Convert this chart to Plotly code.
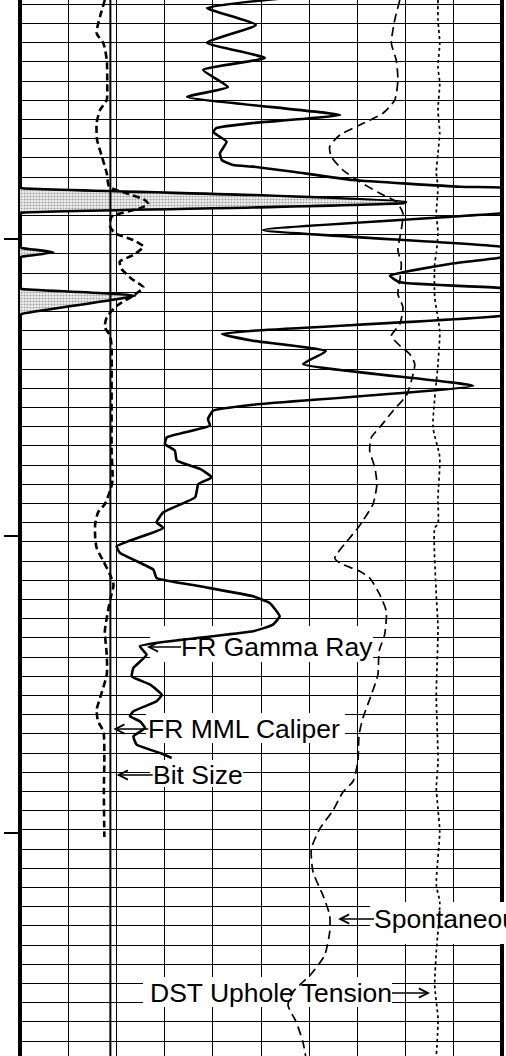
import plotly.graph_objects as go

# ---------------------------------------------------------------- log data
# Gamma ray (API) vs measured depth (ft)
GR_DEPTH = [3975.24, 3976.38, 3978.15, 3980.00, 3981.59, 3982.84, 3984.61, 3985.65,
            3987.53, 3988.36, 3988.88, 3989.30, 3990.31, 3991.52, 3992.22, 3992.74,
            3992.91, 3993.44, 3994.30, 3995.00, 3995.08, 3995.16, 3995.86, 3996.56,
            3996.70, 3997.16, 3997.70, 3997.77, 3999.51, 4001.25, 4001.38, 4001.83,
            4002.29, 4002.37, 4003.05, 4004.27, 4004.96, 4005.55, 4005.65, 4006.35,
            4008.26, 4008.44, 4010.00, 4010.34, 4011.04, 4012.14, 4013.47, 4015.73,
            4017.71, 4018.33, 4019.20, 4019.89, 4021.10, 4021.80, 4022.50, 4023.54,
            4024.40, 4025.27, 4025.97, 4027.35, 4028.92, 4029.96, 4030.55, 4032.46,
            4033.15, 4034.89, 4035.76, 4036.62, 4037.66, 4038.36, 4039.75, 4040.62,
            4041.31, 4042.87, 4043.75, 4045.13, 4046.00, 4046.87, 4047.91, 4048.60,
            4049.64, 4050.16, 4050.69, 4051.38, 4052.25, 4053.12, 4053.99, 4054.51]
GR_API = [85.9, 58.2, 73.4, 58.2, 76.2, 57.0, 64.7, 52.0,
          99.6, 72.5, 61.2, 60.1, 64.3, 62.2, 62.8, 66.3,
          72.5, 85.0, 103.6, 136.9, 149.9, 150.5, 222.5, 270.1,
          269.5, 222.5, 150.5, 149.9, 75.6, 149.9, 150.5, 160.4,
          150.5, 149.9, 133.7, 115.1, 118.2, 149.9, 150.5, 185.8,
          150.5, 149.9, 72.5, 62.8, 72.5, 95.2, 88.1, 141.0,
          72.5, 60.1, 58.5, 59.1, 45.7, 45.1, 48.2, 48.8,
          56.0, 59.7, 55.5, 54.5, 44.6, 42.5, 44.6, 30.1,
          31.1, 41.5, 42.5, 56.0, 72.5, 77.7, 80.8, 78.7,
          72.5, 37.3, 39.4, 35.3, 34.8, 40.5, 44.1, 42.5,
          35.3, 34.2, 37.3, 38.9, 35.3, 36.3, 43.6, 47.2]

# Caliper (in)
CAL_DEPTH = [3975.55, 3977.29, 3979.02, 3980.06, 3981.80, 3984.23, 3985.97, 3987.01,
             3988.39, 3990.13, 3991.87, 3993.60, 3995.00, 3995.69, 3996.38, 3996.80,
             3997.25, 3998.12, 3999.16, 3999.85, 4000.55, 4001.25, 4002.11, 4002.81,
             4003.57, 4004.61, 4005.48, 4006.35, 4007.39, 4008.60, 4009.64, 4010.52,
             4011.73, 4015.21, 4018.68, 4022.50, 4025.62, 4026.66, 4028.05, 4028.92,
             4030.13, 4031.59, 4032.63, 4034.02, 4035.42, 4036.46, 4038.02, 4039.93,
             4041.31, 4043.75, 4045.83, 4048.26, 4049.48, 4050.69, 4051.73, 4054.17,
             4057.98, 4062.74]
CAL_IN = [7.76, 7.66, 7.59, 7.73, 7.80, 7.81, 7.80, 7.66,
          7.59, 7.60, 7.70, 7.80, 7.85, 8.21, 8.59, 8.66,
          8.49, 7.90, 7.87, 7.97, 8.35, 8.56, 8.35, 8.07,
          8.11, 8.32, 8.56, 8.35, 8.01, 7.80, 7.76, 7.87,
          7.90, 7.90, 7.90, 7.90, 7.92, 7.87, 7.76, 7.62,
          7.56, 7.56, 7.59, 7.73, 7.87, 7.94, 7.87, 7.80,
          7.76, 7.80, 7.80, 7.66, 7.59, 7.62, 7.73, 7.75,
          7.74, 7.75]

BIT_SIZE_IN = 7.875

# Spontaneous potential (mV)
SP_DEPTH = [3975.55, 3977.63, 3980.06, 3981.80, 3983.88, 3985.97, 3987.35, 3988.57,
            3989.61, 3990.83, 3991.87, 3993.26, 3994.48, 3995.69, 3996.56, 3997.77,
            3999.51, 4001.59, 4002.98, 4004.79, 4006.18, 4007.56, 4009.30, 4010.52,
            4011.56, 4012.43, 4013.47, 4015.21, 4016.77, 4018.33, 4020.06, 4021.10,
            4022.50, 4024.23, 4025.97, 4028.05, 4029.79, 4030.55, 4031.59, 4033.68,
            4034.20, 4035.06, 4035.76, 4037.50, 4039.23, 4041.66, 4043.39, 4045.83,
            4047.91, 4050.34, 4052.08, 4054.85, 4056.93, 4058.05, 4059.96, 4061.87,
            4063.96, 4066.38, 4068.81, 4070.89, 4072.63, 4075.06, 4076.98, 4077.84,
            4078.88, 4080.24, 4082.01, 4084.09, 4085.55]
SP_MV = [-2.4, -4.5, -5.9, -3.9, -3.2, -4.5, -9.4, -19.0,
         -27.3, -31.5, -30.8, -26.0, -19.0, -10.7, -3.9, -1.1,
         -1.8, -3.2, -1.8, -2.4, -3.2, -1.1, -2.4, -5.9,
         -2.4, 1.7, 3.8, 2.4, 0.3, -5.2, -10.7, -14.2,
         -14.9, -12.8, -11.9, -13.5, -17.7, -19.8, -23.2, -29.4,
         -27.3, -19.0, -14.9, -10.7, -8.0, -8.7, -11.0, -11.5,
         -14.2, -17.7, -19.3, -19.8, -21.8, -26.0, -30.1, -35.6,
         -39.1, -38.4, -34.3, -31.5, -31.5, -33.6, -39.1, -42.6,
         -46.7, -48.8, -45.4, -42.6, -41.5]

# DST uphole tension (lbf)
TEN_DEPTH = [3975.55, 3977.63, 3980.03, 3982.53, 3984.20, 3987.01, 3989.40, 3991.49,
             3993.57, 3995.03, 3997.74, 3999.82, 4001.90, 4003.05, 4006.49, 4010.03,
             4013.47, 4020.03, 4023.15, 4027.32, 4030.13, 4030.55, 4037.53, 4040.97,
             4047.95, 4054.82, 4057.63, 4059.82, 4062.22, 4067.74, 4069.51, 4074.72,
             4078.15, 4081.69, 4085.55]
TEN_LBF = [8672, 8672, 8708, 8672, 8708, 8672, 8708, 8672,
           8637, 8672, 8637, 8672, 8637, 8604, 8604, 8708,
           8672, 8569, 8708, 8672, 8672, 8604, 8637, 8672,
           8637, 8672, 8637, 8672, 8708, 8637, 8708, 8637,
           8604, 8672, 8637]

# Depth marks along the left edge of the track
DEPTH_TICKS = [4000.45, 4031.35, 4062.30]

# Curve labels
LABEL_TEXT = ["FR Gamma Ray", "FR MML Caliper", "Bit Size",
              "Spontaneous Potential", "DST Uphole Tension"]

# ---------------------------------------------------------------- scales
TOP, BASE = 3975.55, 4085.55
GR_RANGE = [0, 150]
GR_BACKUP_RANGE = [150, 300]
CAL_RANGE = [6, 16]
SP_RANGE = [-160, 40]
TEN_RANGE = [0, 10000]

# label placement: arrow tip (fraction of track width), depth, text offset (px)
LABEL_TIP_X = [0.2635, 0.1936, 0.2006, 0.6598, 0.8506]
LABEL_AT_DEPTH = [4042.95, 4051.49, 4056.28, 4071.28, 4078.99]
LABEL_OFFSET = [34, 35, 36, 36, -38]
# white panels behind the labels: (x0, x1) track fraction, (top, base) depth
LABEL_PANEL_X = [(0.2697, 0.7324), (0.2614, 0.6743), (0.2697, 0.4627),
                 (0.7261, 1.0400), (0.2552, 0.7718)]
LABEL_PANEL_D = [(4040.76, 4044.51), (4049.82, 4052.95), (4054.72, 4057.53),
                 (4069.51, 4073.88), (4077.32, 4080.45)]

FONT = "Liberation Sans, Arial, Helvetica, sans-serif"


def track_to_gr(f):
    """Track fraction -> position on the gamma ray scale."""
    return GR_RANGE[0] + f * (GR_RANGE[1] - GR_RANGE[0])


fig = go.Figure()

# white panels under the curve labels (drawn first so the grid is hidden
# but every curve still passes over them)
px_, py_ = [], []
for (f0, f1), (d0, d1) in zip(LABEL_PANEL_X, LABEL_PANEL_D):
    a, b = track_to_gr(f0), track_to_gr(f1)
    px_ += [a, b, b, a, a, None]
    py_ += [d0, d0, d1, d1, d0, None]
fig.add_trace(go.Scatter(
    x=px_, y=py_, xaxis="x", yaxis="y", mode="lines", fill="toself",
    fillcolor="white", line=dict(width=0, color="white"), hoverinfo="skip"))

# gamma ray backup (wrapped) scale, stippled
fig.add_trace(go.Scatter(
    x=GR_API, y=GR_DEPTH, xaxis="x2", yaxis="y", mode="lines",
    line=dict(color="black", width=2.6, shape="spline", smoothing=0.4),
    fill="tozerox", fillcolor="#d8d8d8",
    fillpattern=dict(shape=".", fgcolor="#505050", bgcolor="#f2f2f2",
                     size=3, solidity=0.4),
    hoverinfo="skip"))

# gamma ray
fig.add_trace(go.Scatter(
    x=GR_API, y=GR_DEPTH, xaxis="x", yaxis="y", mode="lines",
    line=dict(color="black", width=2.6, shape="spline", smoothing=0.4),
    hoverinfo="skip"))

# bit size
fig.add_trace(go.Scatter(
    x=[BIT_SIZE_IN, BIT_SIZE_IN], y=[TOP, BASE], xaxis="x3", yaxis="y",
    mode="lines", line=dict(color="black", width=2), hoverinfo="skip"))

# caliper
fig.add_trace(go.Scatter(
    x=CAL_IN, y=CAL_DEPTH, xaxis="x3", yaxis="y", mode="lines",
    line=dict(color="black", width=2.6, dash="7px,4px", shape="spline", smoothing=0.6),
    hoverinfo="skip"))

# spontaneous potential
fig.add_trace(go.Scatter(
    x=SP_MV, y=SP_DEPTH, xaxis="x4", yaxis="y", mode="lines",
    line=dict(color="black", width=1.7, dash="9px,5px", shape="spline", smoothing=0.6),
    hoverinfo="skip"))

# uphole tension
fig.add_trace(go.Scatter(
    x=TEN_LBF, y=TEN_DEPTH, xaxis="x5", yaxis="y", mode="lines",
    line=dict(color="black", width=1.7, dash="3px,3px", shape="spline", smoothing=0.6),
    hoverinfo="skip"))

hidden = dict(showticklabels=False, ticks="", showgrid=False,
              zeroline=False, showline=False, fixedrange=True)

shapes = []
# track borders
for side in (0, 1):
    shapes.append(dict(type="line", xref="x domain", yref="paper",
                       x0=side, x1=side, y0=0, y1=1, layer="below",
                       line=dict(color="black", width=4)))
# the label running off the right edge also covers the outer half of the border
f0, f1 = LABEL_PANEL_X[3]
d0, d1 = LABEL_PANEL_D[3]
shapes.append(dict(type="rect", xref="paper", yref="y", x0=1.0, x1=f1,
                   y0=d0, y1=d1, layer="above", fillcolor="white",
                   line=dict(width=0)))

annotations = []
for text, tip_x, depth, off in zip(LABEL_TEXT, LABEL_TIP_X, LABEL_AT_DEPTH, LABEL_OFFSET):
    annotations.append(dict(
        x=tip_x, y=depth, xref="paper", yref="y", text=text,
        showarrow=True, arrowhead=5, arrowsize=1.2, arrowwidth=1.5,
        arrowcolor="black", ax=off, ay=0,
        xanchor="left" if off > 0 else "right", yanchor="middle",
        font=dict(family=FONT, size=26.5, color="black"),
        borderpad=0, borderwidth=0))

fig.update_layout(
    width=506, height=1056,
    margin=dict(l=20, r=4, t=0, b=0),
    paper_bgcolor="white", plot_bgcolor="white",
    showlegend=False,
    xaxis=dict(range=GR_RANGE, tickmode="linear", tick0=0, dtick=15,
               showgrid=True, gridcolor="black", gridwidth=1,
               showticklabels=False, ticks="", zeroline=False,
               showline=False, fixedrange=True),
    xaxis2=dict(range=GR_BACKUP_RANGE, overlaying="x", anchor="y", **hidden),
    xaxis3=dict(range=CAL_RANGE, overlaying="x", anchor="y", **hidden),
    xaxis4=dict(range=SP_RANGE, overlaying="x", anchor="y", **hidden),
    xaxis5=dict(range=TEN_RANGE, overlaying="x", anchor="y", **hidden),
    yaxis=dict(range=[BASE, TOP], tickmode="array", tickvals=DEPTH_TICKS,
               ticks="outside", ticklen=15, tickwidth=2, tickcolor="black",
               showticklabels=False, showgrid=False, zeroline=False,
               showline=False, fixedrange=True,
               minor=dict(tickmode="linear", tick0=3980, dtick=2, ticks="",
                          showgrid=True, gridcolor="black", gridwidth=1)),
    yaxis2=dict(range=[BASE, TOP], overlaying="y", anchor="x",
                tickmode="linear", tick0=3980, dtick=10,
                showgrid=True, gridcolor="black", gridwidth=2,
                showticklabels=False, ticks="", zeroline=False,
                showline=False, fixedrange=True),
    yaxis3=dict(range=[BASE, TOP], overlaying="y", anchor="x",
                tickmode="linear", tick0=4000, dtick=50,
                showgrid=True, gridcolor="black", gridwidth=3,
                showticklabels=False, ticks="", zeroline=False,
                showline=False, fixedrange=True),
    shapes=shapes,
    annotations=annotations,
)

fig.write_html("out.html")
